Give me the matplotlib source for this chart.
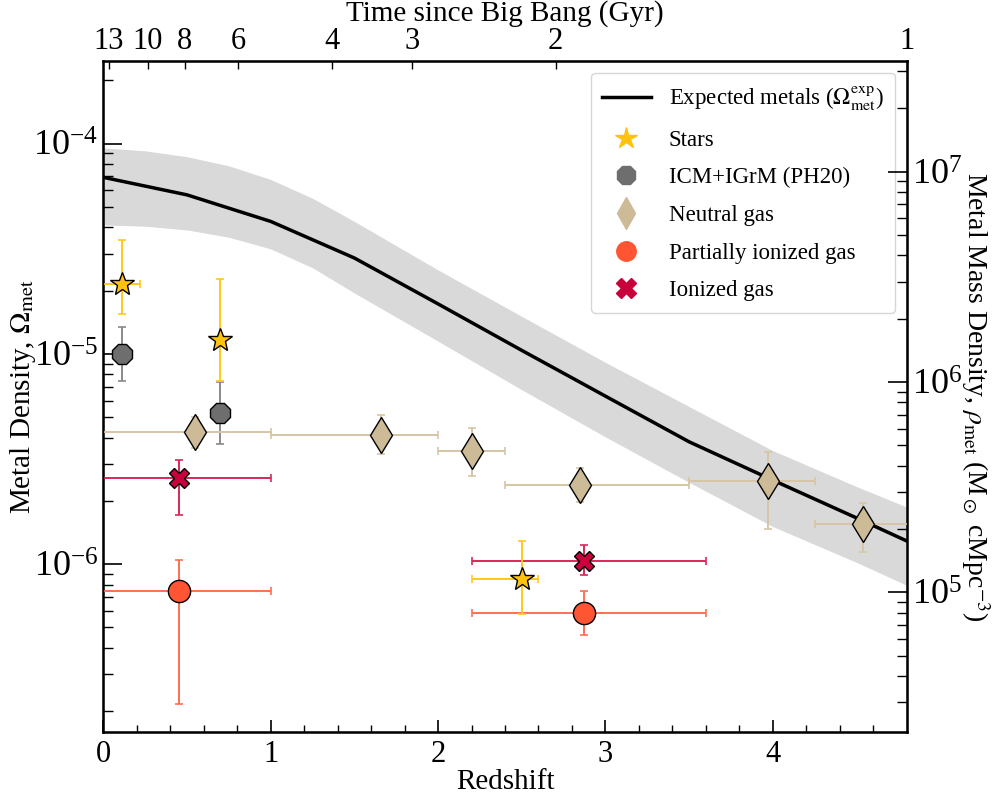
import numpy as np
import matplotlib
matplotlib.use("Agg")
from matplotlib import pyplot as plt
from matplotlib.lines import Line2D

plt.rcParams['font.family'] = ['Liberation Serif', 'DejaVu Serif']
plt.rcParams['mathtext.fontset'] = 'stix'

# expected metals curve
z_exp = [0, 0.5, 1, 1.5, 2, 2.5, 3, 3.5, 4, 4.5, 4.8]
om_exp = [6.92e-5, 5.71e-5, 4.27e-5, 2.86e-5, 1.73e-5, 1.04e-5, 6.30e-6, 3.82e-6, 2.51e-6, 1.66e-6, 1.29e-6]

# uncertainty band around it
z_band = [0, 0.25, 0.5, 0.75, 1.0, 1.25, 1.5, 2, 2.5, 3, 3.5, 4, 4.5, 4.8]
om_hi = [9.55e-5, 9.25e-5, 8.67e-5, 7.85e-5, 6.76e-5, 5.50e-5, 4.27e-5, 2.51e-5,
         1.51e-5, 9.12e-6, 5.62e-6, 3.47e-6, 2.34e-6, 1.87e-6]
om_lo = [4.11e-5, 4.05e-5, 3.89e-5, 3.59e-5, 3.16e-5, 2.57e-5, 1.95e-5, 1.15e-5,
         6.76e-6, 4.03e-6, 2.45e-6, 1.51e-6, 1.02e-6, 7.94e-7]

# measurements: z, z range, value, value range
stars_z = [0.11, 0.7, 2.5]
stars_zlo = [0.0, 0.7, 2.2]
stars_zhi = [0.22, 0.7, 2.6]
stars_v = [2.15e-5, 1.17e-5, 8.5e-7]
stars_vlo = [1.55e-5, 7.46e-6, 5.8e-7]
stars_vhi = [3.47e-5, 2.28e-5, 1.29e-6]

icm_z = [0.11, 0.7]
icm_v = [1.0e-5, 5.25e-6]
icm_vlo = [7.46e-6, 3.73e-6]
icm_vhi = [1.35e-5, 7.38e-6]

neu_z = [0.55, 1.66, 2.2, 2.85, 3.97, 4.54]
neu_zlo = [0.0, 1.0, 2.0, 2.4, 3.5, 4.25]
neu_zhi = [1.0, 2.0, 2.4, 3.5, 4.25, 4.85]
neu_v = [4.25e-6, 4.13e-6, 3.47e-6, 2.39e-6, 2.49e-6, 1.56e-6]
neu_vlo = [3.58e-6, 3.33e-6, 2.62e-6, 1.98e-6, 1.47e-6, 1.14e-6]
neu_vhi = [5.03e-6, 5.13e-6, 4.46e-6, 2.88e-6, 3.40e-6, 1.96e-6]

pig_z = [0.45, 2.87]
pig_zlo = [0.0, 2.2]
pig_zhi = [1.0, 3.6]
pig_v = [7.43e-7, 5.89e-7]
pig_vlo = [2.17e-7, 4.62e-7]
pig_vhi = [1.05e-6, 7.43e-7]

ion_z = [0.45, 2.87]
ion_zlo = [0.0, 2.2]
ion_zhi = [1.0, 3.6]
ion_v = [2.57e-6, 1.04e-6]
ion_vlo = [1.71e-6, 8.87e-7]
ion_vhi = [3.13e-6, 1.24e-6]

# top axis: age of universe
age_ticks_z = [0.034, 0.267, 0.488, 0.804, 1.365, 1.843, 2.703, 4.8]
age_labels = ['13', '10', '8', '6', '4', '3', '2', '1']

# Omega -> rho (Msun / cMpc^3)
rho_crit = 1.36e11

c_star, e_star = '#FFC20E', '#FFC81E'
c_icm, e_icm = '#6E6E6E', '#8A8A8A'
c_neu, e_neu = '#CDBB97', '#D6C6A6'
c_pig, e_pig = '#FF5533', '#FF7050'
c_ion, e_ion = '#C8003C', '#D8285A'

fig = plt.figure(figsize=(9.97, 7.94), dpi=100)
ax = fig.add_axes([0.1036, 0.078, 0.8058, 0.845])

ax.fill_between(z_band, om_lo, om_hi, color='#D9D9D9', lw=0, zorder=1)
ax.plot(z_exp, om_exp, color='k', lw=2.5, zorder=2)


def errpts(z, zlo, zhi, v, vlo, vhi, marker, fc, ec, ms):
    z = np.array(z); v = np.array(v)
    xerr = None
    if zlo is not None:
        xerr = [z - np.array(zlo), np.array(zhi) - z]
    yerr = [v - np.array(vlo), np.array(vhi) - v]
    ax.errorbar(z, v, xerr=xerr, yerr=yerr, fmt='none', ecolor=ec, elinewidth=1.4,
                capsize=3, capthick=1.2, zorder=3)
    ax.plot(z, v, ls='none', marker=marker, ms=ms, mfc=fc, mec='k', mew=1.0, zorder=4)


errpts(icm_z, None, None, icm_v, icm_vlo, icm_vhi, '8', c_icm, e_icm, 16)
errpts(neu_z, neu_zlo, neu_zhi, neu_v, neu_vlo, neu_vhi, 'd', c_neu, e_neu, 18)
errpts(pig_z, pig_zlo, pig_zhi, pig_v, pig_vlo, pig_vhi, 'o', c_pig, e_pig, 16)
errpts(ion_z, ion_zlo, ion_zhi, ion_v, ion_vlo, ion_vhi, 'X', c_ion, e_ion, 14)
errpts(stars_z, stars_zlo, stars_zhi, stars_v, stars_vlo, stars_vhi, '*', c_star, e_star, 18)

ylim = (1.59e-7, 2.47e-4)
ax.set_yscale('log')
ax.set_xlim(0, 4.8)
ax.set_ylim(ylim)
ax.set_xticks([0, 1, 2, 3, 4])
ax.set_xticks(np.arange(0, 4.8, 0.2), minor=True)
ax.tick_params(which='both', direction='in', top=False, right=False)
ax.tick_params(axis='x', which='major', length=9, width=1.2, labelsize=22, pad=6)
ax.tick_params(axis='x', which='minor', length=5, width=1)
ax.tick_params(axis='y', which='major', length=14, width=1.2, labelsize=26)
ax.tick_params(axis='y', which='minor', length=7, width=1)
ax.set_xlabel('Redshift', fontsize=21, labelpad=0)
ax.set_ylabel(r'Metal Density, $\Omega_{\rm met}$', fontsize=21, labelpad=-3)
for s in ax.spines.values():
    s.set_linewidth(1.8)

ax2 = ax.twinx()
ax2.set_yscale('log')
ax2.set_ylim(ylim[0] * rho_crit, ylim[1] * rho_crit)
ax2.tick_params(which='both', direction='in')
ax2.tick_params(axis='y', which='major', length=14, width=1.2, labelsize=26)
ax2.tick_params(axis='y', which='minor', length=7, width=1)
ax2.set_ylabel(r'Metal Mass Density, $\rho_{\rm met}$ (M$_\odot$ cMpc$^{-3}$)',
               fontsize=20, rotation=270, labelpad=22)

ax3 = ax.twiny()
ax3.set_xlim(ax.get_xlim())
ax3.set_xticks(age_ticks_z)
ax3.set_xticklabels(age_labels)
ax3.tick_params(axis='x', direction='in', length=6, width=1, labelsize=22, pad=4)
ax3.set_xlabel('Time since Big Bang (Gyr)', fontsize=21, labelpad=4)

handles = [
    Line2D([], [], color='k', lw=2.5, label=r'Expected metals ($\Omega_{\rm met}^{\rm exp}$)'),
    Line2D([], [], ls='none', marker='*', ms=16, mfc=c_star, mec=c_star, label='Stars'),
    Line2D([], [], ls='none', marker='8', ms=14, mfc=c_icm, mec=c_icm, label='ICM+IGrM (PH20)'),
    Line2D([], [], ls='none', marker='d', ms=16, mfc=c_neu, mec=c_neu, label='Neutral gas'),
    Line2D([], [], ls='none', marker='o', ms=14, mfc=c_pig, mec=c_pig, label='Partially ionized gas'),
    Line2D([], [], ls='none', marker='X', ms=14, mfc=c_ion, mec=c_ion, label='Ionized gas'),
]
leg = ax.legend(handles=handles, loc='upper right', fontsize=16.5, frameon=True,
                borderpad=0.5, labelspacing=0.72, handlelength=2.1, handletextpad=0.8,
                borderaxespad=0.5)
leg.set_zorder(10)

fig.savefig('out.png', dpi=100)
